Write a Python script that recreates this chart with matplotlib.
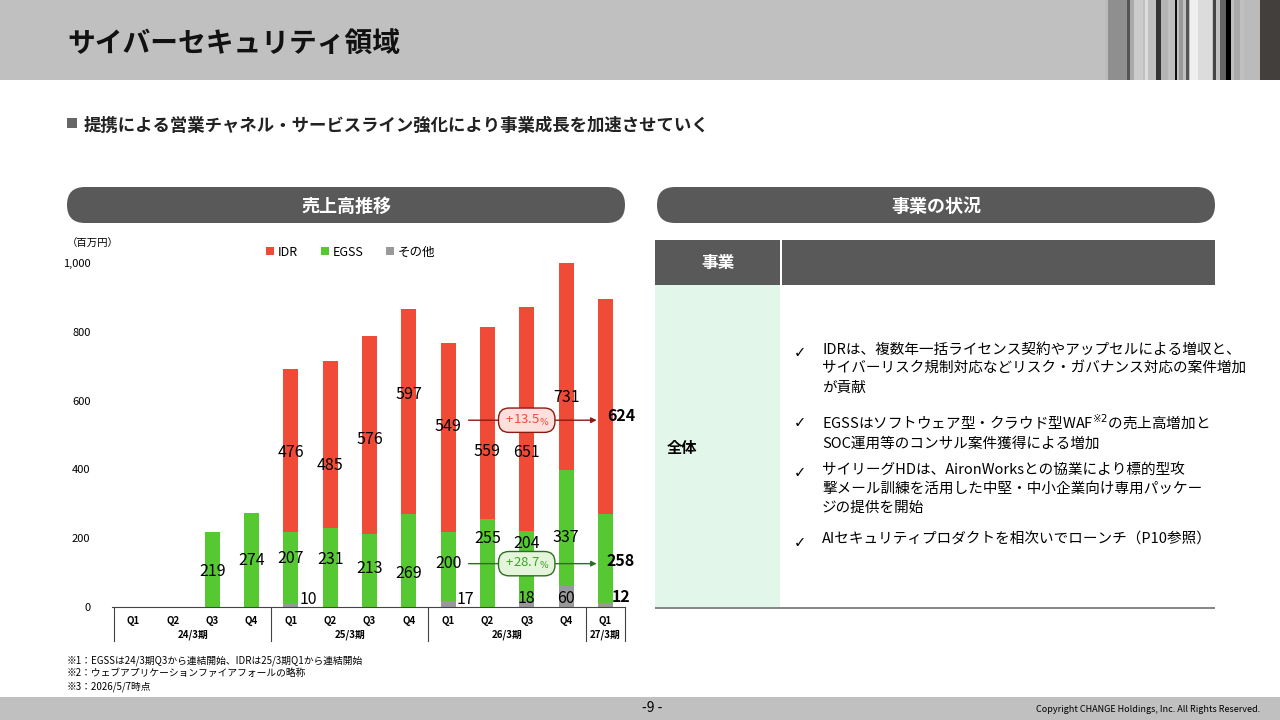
import matplotlib.pyplot as plt
from matplotlib.patches import Rectangle, FancyBboxPatch

plt.rcParams["font.family"] = ["Noto Sans CJK JP", "DejaVu Sans"]

quarters = ["Q1", "Q2", "Q3", "Q4", "Q1", "Q2", "Q3", "Q4", "Q1", "Q2", "Q3", "Q4", "Q1"]
years = ["24/3期", "25/3期", "26/3期", "27/3期"]
year_span = [4, 4, 4, 1]
other = [0, 0, 0, 0, 10, 0, 0, 0, 17, 0, 18, 60, 12]
egss = [0, 0, 219, 274, 207, 231, 213, 269, 200, 255, 204, 337, 258]
idr = [0, 0, 0, 0, 476, 485, 576, 597, 549, 559, 651, 731, 624]
bullets = [
    "IDRは、複数年一括ライセンス契約やアップセルによる増収と、\nサイバーリスク規制対応などリスク・ガバナンス対応の案件増加\nが貢献",
    "EGSSはソフトウェア型・クラウド型WAF$^{※2}$の売上高増加と\nSOC運用等のコンサル案件獲得による増加",
    "サイリーグHDは、AironWorksとの協業により標的型攻\n撃メール訓練を活用した中堅・中小企業向け専用パッケー\nジの提供を開始",
    "AIセキュリティプロダクトを相次いでローンチ（P10参照）",
]

RED, GREEN, GRAY = "#f04b37", "#55c832", "#999999"
fig = plt.figure(figsize=(12.8, 7.2), dpi=100)

# background layer in pixel coordinates
bg = fig.add_axes([0, 0, 1, 1])
bg.set_xlim(0, 1280)
bg.set_ylim(720, 0)
bg.axis("off")


def box(x0, y0, x1, y1, c):
    bg.add_patch(Rectangle((x0, y0), x1 - x0, y1 - y0, color=c, lw=0))


def txt(x, y, s, **kw):
    bg.text(x, y, s, **kw)


# header
box(0, 0, 1280, 80, "#c0c0c0")
stripes = [(1105, 1108, "#bbbbbb"), (1108, 1127, "#8f8f8f"), (1127, 1130, "#555555"), (1130, 1134, "#aaaaaa"),
           (1134, 1143, "#cccccc"), (1145, 1148, "#dddddd"), (1156, 1161, "#333333"), (1161, 1168, "#b5b5b5"),
           (1175, 1177, "#111111"), (1179, 1183, "#999999"), (1186, 1189, "#555555"), (1190, 1198, "#f0f0f0"),
           (1198, 1212, "#dcdcdc"), (1213, 1216, "#444444"), (1220, 1226, "#666666"), (1226, 1231, "#000000"),
           (1234, 1240, "#aaaaaa"), (1244, 1260, "#bbbbbb"), (1260, 1280, "#433f3c")]
for a, b, c in stripes:
    box(a, 0, b, 80, c)
txt(67, 52, "サイバーセキュリティ領域", fontsize=20, fontweight="bold", color="#111111")
box(67, 118, 77, 128, "#666666")
txt(84, 131, "提携による営業チャネル・サービスライン強化により事業成長を加速させていく", fontsize=12.5,
    fontweight="bold", color="#222222")

# pills
for x0, x1, s in [(67, 625, "売上高推移"), (657, 1215, "事業の状況")]:
    bg.add_patch(FancyBboxPatch((x0, 187), x1 - x0, 36, boxstyle="round,pad=0,rounding_size=18",
                                color="#595959", lw=0))
    txt((x0 + x1) / 2, 206, s, fontsize=13, fontweight="bold", color="white", ha="center", va="center")

# table
box(655, 240, 1215, 285, "#595959")
box(780, 240, 782, 285, "white")
txt(718, 263, "事業", fontsize=12, fontweight="bold", color="white", ha="center", va="center")
box(655, 285, 780, 608, "#e2f6ea")
box(655, 607, 1215, 608.5, "#888888")
txt(667, 448, "全体", fontsize=11, fontweight="bold", va="center")
by = [353, 423, 473, 543]
for yb, s in zip(by, bullets):
    txt(800, yb, "✓", fontsize=10.5, va="center", ha="center", family=["DejaVu Sans"])
    txt(822, yb - 10, s, fontsize=10.5, va="top", linespacing=1.45)

# footnotes / footer
txt(67, 663, "※1：EGSSは24/3期Q3から連結開始、IDRは25/3期Q1から連結開始", fontsize=7)
txt(67, 676, "※2：ウェブアプリケーションファイアフォールの略称", fontsize=7)
txt(67, 689, "※3：2026/5/7時点", fontsize=7)
box(0, 697, 1280, 720, "#c0c0c0")
txt(652, 712, "-9 -", fontsize=10, ha="center")
txt(1260, 712, "Copyright CHANGE Holdings, Inc. All Rights Reserved.", fontsize=6.5, ha="right")

txt(67, 247, "（百万円）", fontsize=7.5)
for lx, c, s in [(266, RED, "IDR"), (321, GREEN, "EGSS"), (386, GRAY, "その他")]:
    box(lx, 247, lx + 8, 255, c)
    txt(lx + 12, 256, s, fontsize=9)

# chart
ax = fig.add_axes([112 / 1280, 1 - 607 / 720, 513 / 1280, 344 / 720])
ax.patch.set_alpha(0)
x = list(range(len(quarters)))
ax.bar(x, other, 0.38, color=GRAY)
ax.bar(x, egss, 0.38, bottom=other, color=GREEN)
ax.bar(x, idr, 0.38, bottom=[o + e for o, e in zip(other, egss)], color=RED)
ax.set_ylim(0, 1000)
ax.set_xlim(-0.55, 12.5)
ax.set_yticks([0, 200, 400, 600, 800, 1000], ["0", "200", "400", "600", "800", "1,000"], fontsize=8)
ax.tick_params(left=False, bottom=False, labelbottom=False, pad=12)
for s in ["top", "right", "left"]:
    ax.spines[s].set_visible(False)
ax.spines["bottom"].set_color("#444444")

red_pos = [None, None, None, None, 450, 410, 488, 619, 526, 453, 448, 610]
green_pos = [None, None, 102, 134, 142, 137, 113, 96, 125, 200, 186, 203]
for i in range(12):
    if red_pos[i]:
        ax.text(i, red_pos[i], str(idr[i]), ha="center", va="center", fontsize=11.5)
    if green_pos[i]:
        ax.text(i, green_pos[i], str(egss[i]), ha="center", va="center", fontsize=11.5)
for i in [4, 8]:
    ax.text(i + 0.45, 23, str(other[i]), ha="center", va="center", fontsize=11.5)
for i in [10, 11]:
    ax.text(i, 25, str(other[i]), ha="center", va="center", fontsize=11.5)
ax.text(12.4, 555, str(idr[12]), ha="center", va="center", fontsize=11.5, fontweight="bold")
ax.text(12.4, 134, str(egss[12]), ha="center", va="center", fontsize=11.5, fontweight="bold")
ax.text(12.4, 28, str(other[12]), ha="center", va="center", fontsize=11.5, fontweight="bold")

for yv, col, face, tc, s in [(543, "#8b1a10", "#fde0dc", RED, "+13.5"), (126, "#2e6e1e", "#e4f5dc", "#3aa520", "+28.7")]:
    ax.annotate("", xy=(11.85, yv), xytext=(8.45, yv),
                arrowprops=dict(arrowstyle="-|>", color=col, lw=1, mutation_scale=8))
    ax.text(10, yv, " " + s + "$_{\\%}$ ", ha="center", va="center", fontsize=9.5, color=tc,
            bbox=dict(boxstyle="round,pad=0.35,rounding_size=0.8", fc=face, ec=col, lw=1))

# category axis
xt = ax.get_xaxis_transform()
for i, q in enumerate(quarters):
    ax.text(i, -0.04, q, transform=xt, ha="center", va="center", fontsize=7, fontweight="bold")
start = -0.5
for y, n in zip(years, year_span):
    ax.text(start + n / 2, -0.08, y, transform=xt, ha="center", va="center", fontsize=7, fontweight="bold")
    ax.plot([start, start], [0, -0.1], transform=xt, color="#444444", lw=0.8, clip_on=False)
    start += n
ax.plot([start, start], [0, -0.1], transform=xt, color="#444444", lw=0.8, clip_on=False)

fig.savefig("out.png", dpi=100)
